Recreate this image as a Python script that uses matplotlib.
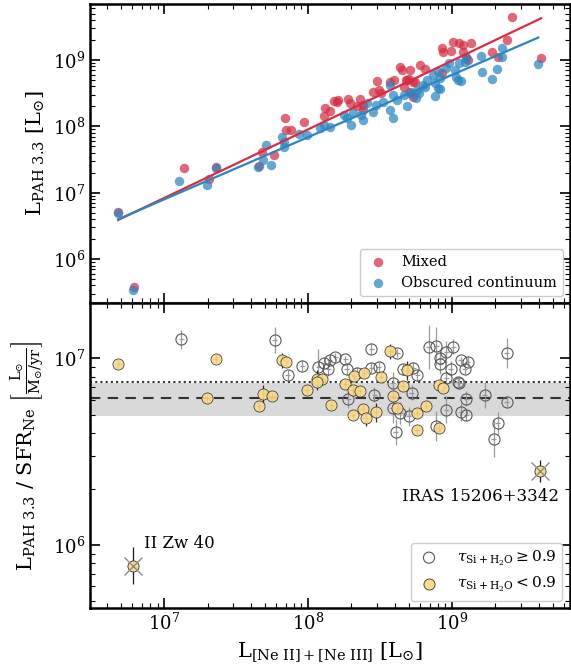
import numpy as np
import matplotlib
matplotlib.use("Agg")
import matplotlib.pyplot as plt
from matplotlib.ticker import NullFormatter

plt.rcParams["font.family"] = "DejaVu Serif"
plt.rcParams["mathtext.fontset"] = "dejavuserif"

# top panel: log10 L_Ne vs log10 L_PAH3.3
mixed_lx = [9.42, 9.62, 9.38, 9.28, 9.32, 9.01, 9.05, 9.13, 9.08, 8.93, 8.94, 8.99, 9.08, 9.10, 9.11,
            8.64, 8.65, 8.71, 8.78, 8.81, 8.70, 8.73, 8.67, 8.71, 8.73, 8.93, 8.48, 8.57, 8.60, 8.69,
            8.45, 8.49, 8.51, 8.28, 8.29, 8.36, 8.38, 8.20, 8.18, 8.12, 8.15, 8.11, 7.97, 7.84, 7.88,
            7.85, 7.68, 7.76, 7.66, 7.36, 7.31, 7.14, 6.68, 6.79, 8.34, 8.38, 8.21, 8.68, 8.74]
mixed_ly = [9.65, 9.03, 9.30, 9.12, 9.05, 9.27, 9.25, 9.25, 9.23, 9.18, 9.12, 9.13, 9.12, 9.05, 9.00,
            8.90, 8.85, 8.85, 8.92, 8.87, 8.72, 8.67, 8.59, 8.52, 8.45, 8.80, 8.69, 8.67, 8.70, 8.70,
            8.52, 8.55, 8.50, 8.42, 8.35, 8.41, 8.32, 8.37, 8.38, 8.27, 8.23, 8.15, 8.06, 8.12, 7.94,
            7.94, 7.61, 7.57, 7.40, 7.39, 7.20, 7.37, 6.71, 5.58, 8.30, 8.25, 8.40, 8.70, 8.67]

obsc_lx = [9.60, 9.35, 9.35, 9.20, 9.21, 9.31, 9.28, 9.10, 9.05, 9.09, 8.98, 8.96, 9.02, 9.03, 9.06,
           9.04, 8.90, 8.92, 8.88, 8.90, 8.87, 8.83, 8.80, 8.81, 8.76, 8.71, 8.88, 8.75, 8.69, 8.77,
           8.67, 8.62, 8.59, 8.57, 8.59, 8.57, 8.52, 8.47, 8.45, 8.41, 8.37, 8.31, 8.27, 8.30, 8.25,
           8.15, 8.11, 8.08, 7.99, 7.94, 7.82, 7.83, 7.71, 8.92, 8.38, 7.69, 7.74, 7.65, 7.83, 7.36,
           7.30, 7.10, 6.68, 6.78]
obsc_ly = [8.94, 9.18, 9.05, 9.06, 8.82, 8.87, 8.71, 9.03, 8.95, 8.97, 8.95, 8.88, 8.85, 8.75, 8.68,
           8.70, 8.83, 8.73, 8.65, 8.58, 8.78, 8.70, 8.62, 8.60, 8.55, 8.50, 8.46, 8.43, 8.31, 8.50,
           8.47, 8.40, 8.47, 8.25, 8.12, 8.62, 8.37, 8.32, 8.22, 8.35, 8.17, 8.20, 8.12, 8.02, 8.17,
           7.99, 8.02, 7.97, 7.87, 7.89, 7.84, 7.77, 7.72, 8.57, 8.10, 7.49, 7.42, 7.39, 7.69, 7.37,
           7.12, 7.18, 6.70, 5.53]

# fitted relations: log y = slope * (log x - 8) + intercept
mixed_fit = (1.034, 7.955)
obsc_fit = (0.938, 7.838)

# bottom panel: log10 L_Ne vs log10 (L_PAH / SFR), error in dex
thick_lx = [7.12, 7.77, 7.86, 7.96, 8.07, 8.11, 8.14, 8.15, 8.19, 8.26, 8.27, 8.34, 8.44, 8.44, 8.49,
            8.46, 8.28, 8.62, 8.59, 8.66, 8.73, 8.76, 8.72, 8.59, 8.64, 8.70, 8.61, 8.84, 8.89, 8.96,
            9.01, 8.92, 8.92, 8.99, 9.06, 9.11, 9.09, 8.96, 9.04, 9.05, 9.10, 9.06, 9.10, 8.96, 8.89,
            9.23, 9.38, 9.38, 9.32, 9.29]
thick_ly = [7.102, 7.098, 6.910, 6.962, 6.953, 6.977, 6.945, 6.991, 7.009, 6.995, 6.941, 6.923, 7.052,
            6.950, 6.953, 6.806, 6.783, 7.030, 6.866, 6.941, 6.950, 6.909, 6.816, 6.735, 6.708, 6.690,
            6.604, 7.061, 7.066, 7.034, 7.063, 7.000, 6.968, 6.946, 6.989, 6.982, 6.945, 6.896, 6.873,
            6.866, 6.785, 6.713, 6.695, 6.726, 6.640, 6.806, 7.027, 6.767, 6.654, 6.570]
thick_err = [0.05, 0.07, 0.03, 0.03, 0.10, 0.03, 0.04, 0.02, 0.02, 0.02, 0.03, 0.03, 0.03, 0.03, 0.03,
             0.04, 0.05, 0.02, 0.06, 0.03, 0.03, 0.03, 0.04, 0.08, 0.06, 0.05, 0.07, 0.12, 0.10, 0.06,
             0.04, 0.04, 0.05, 0.04, 0.02, 0.03, 0.03, 0.03, 0.02, 0.03, 0.04, 0.05, 0.03, 0.07, 0.08,
             0.07, 0.08, 0.03, 0.06, 0.10]

thin_lx = [6.68, 7.36, 7.30, 7.69, 7.75, 7.66, 7.82, 7.85, 8.06, 8.10, 8.06, 7.99, 8.16, 8.26, 8.32,
           8.39, 8.51, 8.31, 8.36, 8.31, 8.38, 8.40, 8.47, 8.57, 8.69, 8.66, 8.59, 8.62, 8.76, 8.82,
           8.76, 8.91, 8.94, 8.91]
thin_ly = [6.971, 6.998, 6.787, 6.810, 6.796, 6.747, 6.990, 6.980, 6.890, 6.890, 6.873, 6.830, 6.750,
           6.864, 6.905, 6.923, 6.903, 6.830, 6.824, 6.695, 6.731, 6.679, 6.711, 7.039, 6.937, 6.851,
           6.801, 6.735, 6.708, 6.747, 6.615, 6.860, 6.842, 6.627]
thin_err = [0.02, 0.02, 0.02, 0.05, 0.02, 0.02, 0.04, 0.02, 0.05, 0.03, 0.04, 0.02, 0.02, 0.02, 0.02,
            0.02, 0.02, 0.02, 0.02, 0.02, 0.02, 0.04, 0.05, 0.04, 0.05, 0.02, 0.02, 0.02, 0.02, 0.02,
            0.02, 0.02, 0.02, 0.02]

# outliers
out_names = ["II Zw 40", "IRAS 15206+3342"]
out_lx = [6.78, 9.61]
out_ly = [5.889, 6.398]
out_err = [0.10, 0.06]

median_ratio = 6.12e6
band_lo, band_hi = 4.94e6, 7.40e6
dotted_ratio = 7.5e6

red = "#d62d41"
blue = "#2a86c2"
yellow = "#fbd98a"


def dex_err(ly, e):
    ly = np.array(ly)
    e = np.array(e)
    y = 10 ** ly
    return y, np.vstack([y - 10 ** (ly - e), 10 ** (ly + e) - y])


def style(ax):
    ax.set_xscale("log")
    ax.set_yscale("log")
    ax.tick_params(which="both", direction="in", top=True, right=True, labelsize=13)
    ax.tick_params(which="major", length=7, width=1.2)
    ax.tick_params(which="minor", length=3.5, width=0.8)
    for s in ax.spines.values():
        s.set_linewidth(1.8)


fig = plt.figure(figsize=(5.71, 6.64), dpi=100)
gs = fig.add_gridspec(2, 1, height_ratios=[299, 305], hspace=0,
                      left=0.158, right=0.998, top=0.994, bottom=0.084)
ax1 = fig.add_subplot(gs[0])
ax2 = fig.add_subplot(gs[1], sharex=ax1)

# ---- top
ax1.scatter(10 ** np.array(mixed_lx), 10 ** np.array(mixed_ly), s=46, color=red, alpha=0.72,
            lw=0, label="Mixed", zorder=2)
ax1.scatter(10 ** np.array(obsc_lx), 10 ** np.array(obsc_ly), s=46, color=blue, alpha=0.72,
            lw=0, label="Obscured continuum", zorder=2)
for lx, fit, c in [(mixed_lx, mixed_fit, red), (obsc_lx, obsc_fit, blue)]:
    xx = np.linspace(min(lx), max(lx), 50)
    ax1.plot(10 ** xx, 10 ** (fit[0] * (xx - 8) + fit[1]), color=c, lw=1.6, zorder=3)

style(ax1)
ax1.set_ylim(2.17e5, 7.0e9)
ax1.set_ylabel(r"$\mathrm{L_{PAH\ 3.3}\ [L_{\odot}]}$", fontsize=15)
ax1.tick_params(labelbottom=False)
ax1.legend(loc="lower right", fontsize=10.5, handletextpad=0.8, borderpad=0.4,
           handlelength=1.6, framealpha=1, edgecolor="0.8")

# ---- bottom
ax2.axhspan(band_lo, band_hi, color="0.85", lw=0, zorder=0)
ax2.axhline(median_ratio, color="0.2", ls=(0, (5, 3.5)), lw=1.5, zorder=1)
ax2.axhline(dotted_ratio, color="0.2", ls=(0, (1, 1.5)), lw=1.5, zorder=1)

y, ye = dex_err(thick_ly, thick_err)
x = 10 ** np.array(thick_lx)
ax2.errorbar(x, y, yerr=ye, xerr=x * 0.04, fmt="o", ms=8, mfc="none", mec="0.35", mew=0.8,
             ecolor="0.6", elinewidth=0.9, zorder=3)

y, ye = dex_err(thin_ly, thin_err)
x = 10 ** np.array(thin_lx)
ax2.errorbar(x, y, yerr=ye, xerr=x * 0.04, fmt="o", ms=8, mfc=yellow, mec="0.2", mew=0.6,
             ecolor="0.1", elinewidth=0.9, alpha=0.9, zorder=4)

y, ye = dex_err(out_ly, out_err)
x = 10 ** np.array(out_lx)
ax2.errorbar(x, y, yerr=ye, xerr=x * 0.04, fmt="o", ms=8, mfc=yellow, mec="0.2", mew=0.6,
             ecolor="0.1", elinewidth=0.9, zorder=4)
ax2.plot(x, y, "x", ms=13, mew=1.0, color="0.55", zorder=5)

ax2.text(7.18e6, 9.6e5, out_names[0], fontsize=12, ha="left", va="baseline")
ax2.text(5.53e9, 1.73e6, out_names[1], fontsize=12, ha="right", va="baseline")

style(ax2)
ax2.yaxis.set_minor_formatter(NullFormatter())
ax2.set_xlim(3.06e6, 6.6e9)
ax2.set_ylim(4.58e5, 1.98e7)
ax2.set_xlabel(r"$\mathrm{L_{[Ne\ II]+[Ne\ III]}\ [L_{\odot}]}$", fontsize=15)
ax2.set_ylabel(r"$\mathrm{L_{PAH\ 3.3}\ /\ SFR_{Ne}}\ \left[\frac{\mathrm{L_{\odot}}}{\mathrm{M_{\odot}/yr}}\right]$",
               fontsize=15)

h1 = ax2.scatter([], [], s=64, facecolor="none", edgecolor="0.35", lw=0.8)
h2 = ax2.scatter([], [], s=64, facecolor=yellow, edgecolor="0.2", lw=0.6)
ax2.legend([h1, h2], [r"$\tau_{\mathrm{Si+H_2O}} \geq 0.9$", r"$\tau_{\mathrm{Si+H_2O}} < 0.9$"],
           loc="lower right", fontsize=11, handletextpad=1.0, borderpad=0.4,
           handlelength=1.6, framealpha=1, edgecolor="0.8")

fig.align_ylabels([ax1, ax2])
fig.savefig("out.png", dpi=100)
